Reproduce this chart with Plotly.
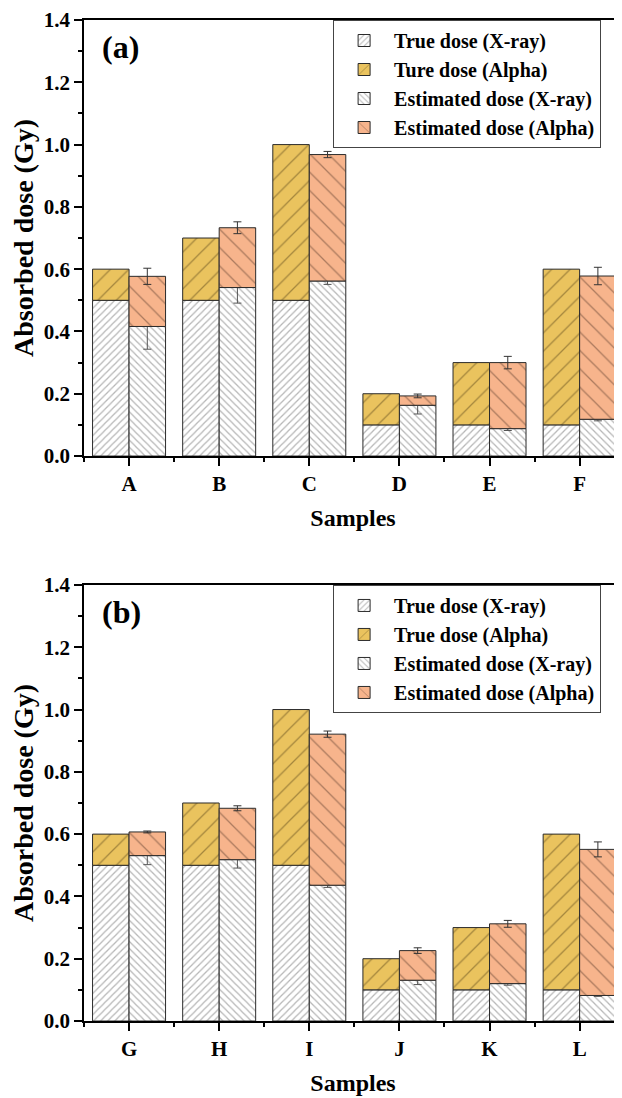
import plotly.graph_objects as go

# ---------------- data ----------------
samples_a = ["A", "B", "C", "D", "E", "F"]
samples_b = ["G", "H", "I", "J", "K", "L"]

true_xray_a = [0.5, 0.5, 0.5, 0.1, 0.1, 0.1]
true_alpha_a = [0.1, 0.2, 0.5, 0.1, 0.2, 0.5]
est_xray_a = [0.416, 0.541, 0.562, 0.163, 0.088, 0.118]
est_xray_err_a = [0.073, 0.050, 0.011, 0.028, 0.006, 0.005]
est_alpha_a = [0.161, 0.192, 0.406, 0.030, 0.212, 0.460]
est_alpha_err_a = [0.026, 0.019, 0.010, 0.006, 0.020, 0.028]

true_xray_b = [0.5, 0.5, 0.5, 0.1, 0.1, 0.1]
true_alpha_b = [0.1, 0.2, 0.5, 0.1, 0.2, 0.5]
est_xray_b = [0.531, 0.518, 0.436, 0.131, 0.120, 0.082]
est_xray_err_b = [0.029, 0.027, 0.007, 0.014, 0.005, 0.003]
est_alpha_b = [0.076, 0.165, 0.485, 0.095, 0.192, 0.469]
est_alpha_err_b = [0.003, 0.008, 0.010, 0.009, 0.011, 0.024]

names_a = ["True dose (X-ray)", "Ture dose (Alpha)", "Estimated dose (X-ray)", "Estimated dose (Alpha)"]
names_b = ["True dose (X-ray)", "True dose (Alpha)", "Estimated dose (X-ray)", "Estimated dose (Alpha)"]

GOLD = "#EAC35E"
SALMON = "#F7B48C"
FONT = "Liberation Serif"

fig = go.Figure()


def add_panel(samples, tx, ta, ex, exe, ea, eae, names, xa, ya, leg):
    idx = list(range(len(samples)))
    line = dict(color="#2b2b2b", width=1)
    fig.add_trace(go.Bar(
        x=idx, y=tx, name=names[0], offsetgroup="true", xaxis=xa, yaxis=ya, legend=leg,
        marker=dict(color="white", line=line,
                    pattern=dict(shape="/", fgcolor="#6e6e6e", size=5, solidity=0.25)),
    ))
    fig.add_trace(go.Bar(
        x=idx, y=ta, base=tx, name=names[1], offsetgroup="true", xaxis=xa, yaxis=ya, legend=leg,
        marker=dict(color=GOLD, line=line,
                    pattern=dict(shape="/", fgcolor="#5e4a1c", size=13, solidity=0.1)),
    ))
    fig.add_trace(go.Bar(
        x=idx, y=ex, name=names[2], offsetgroup="est", xaxis=xa, yaxis=ya, legend=leg,
        marker=dict(color="white", line=line,
                    pattern=dict(shape="\\", fgcolor="#6e6e6e", size=5, solidity=0.25)),
        error_y=dict(type="data", array=exe, color="#555555", thickness=1, width=4),
    ))
    fig.add_trace(go.Bar(
        x=idx, y=ea, base=ex, name=names[3], offsetgroup="est", xaxis=xa, yaxis=ya, legend=leg,
        marker=dict(color=SALMON, line=line,
                    pattern=dict(shape="\\", fgcolor="#604030", size=13, solidity=0.1)),
        error_y=dict(type="data", array=eae, color="#333333", thickness=1, width=4),
    ))


add_panel(samples_a, true_xray_a, true_alpha_a, est_xray_a, est_xray_err_a,
          est_alpha_a, est_alpha_err_a, names_a, "x", "y", "legend")
add_panel(samples_b, true_xray_b, true_alpha_b, est_xray_b, est_xray_err_b,
          est_alpha_b, est_alpha_err_b, names_b, "x2", "y2", "legend2")

tick_font = dict(family=FONT, size=21, color="black", weight="bold")
xtitle_font = dict(family=FONT, size=24, color="black", weight="bold")
ytitle_font = dict(family=FONT, size=28, color="black", weight="bold")


def xaxis_cfg(samples, anchor):
    return dict(
        anchor=anchor, domain=[0, 1], range=[-0.5, 5.47], automargin=False,
        tickmode="array", tickvals=list(range(len(samples))), ticktext=samples,
        ticks="outside", ticklen=8, tickwidth=1.5, tickcolor="black",
        minor=dict(tick0=0.5, dtick=1, ticks="outside", ticklen=4, tickwidth=1.5, tickcolor="black"),
        showline=True, linecolor="black", linewidth=1.5, mirror=True,
        showgrid=False, zeroline=False, tickfont=tick_font,
        title=dict(text="Samples", font=xtitle_font, standoff=14),
    )


def yaxis_cfg(anchor, domain):
    return dict(
        anchor=anchor, domain=domain, range=[0, 1.4], automargin=False,
        tickmode="linear", tick0=0, dtick=0.2, tickformat=".1f",
        ticks="outside", ticklen=8, tickwidth=1.5, tickcolor="black",
        minor=dict(dtick=0.1, ticks="outside", ticklen=4, tickwidth=1.5, tickcolor="black"),
        showline=True, linecolor="black", linewidth=1.5, mirror=True,
        showgrid=False, zeroline=False, tickfont=tick_font,
        title=dict(text="Absorbed dose (Gy)", font=ytitle_font, standoff=4),
    )


legend_common = dict(
    x=0.463, xanchor="left", yanchor="top",
    bgcolor="white", bordercolor="#444444", borderwidth=1,
    font=dict(family=FONT, size=20, color="black", weight="bold"),
    traceorder="normal", tracegroupgap=0, itemwidth=50,
)

# the page body adds an 8 px offset, so the figure is 8 px smaller than the window
fig.update_layout(
    width=614, height=1090,
    margin=dict(l=76, r=0, t=12, b=77),
    paper_bgcolor="white", plot_bgcolor="white",
    barmode="group", bargap=0.19, bargroupgap=0,
    font=dict(family=FONT, color="black"),
    xaxis=xaxis_cfg(samples_a, "y"),
    yaxis=yaxis_cfg("x", [0.5644, 1.0]),
    xaxis2=xaxis_cfg(samples_b, "y2"),
    yaxis2=yaxis_cfg("x2", [0.0, 0.4356]),
    legend=dict(y=1.0, **legend_common),
    legend2=dict(y=0.4356, **legend_common),
    annotations=[
        dict(text="(a)", xref="x domain", yref="y domain", x=0.03, y=0.985,
             xanchor="left", yanchor="top", showarrow=False,
             font=dict(family=FONT, size=32, color="black", weight="bold")),
        dict(text="(b)", xref="x2 domain", yref="y2 domain", x=0.03, y=0.985,
             xanchor="left", yanchor="top", showarrow=False,
             font=dict(family=FONT, size=32, color="black", weight="bold")),
    ],
)

fig.write_html("out.html")
